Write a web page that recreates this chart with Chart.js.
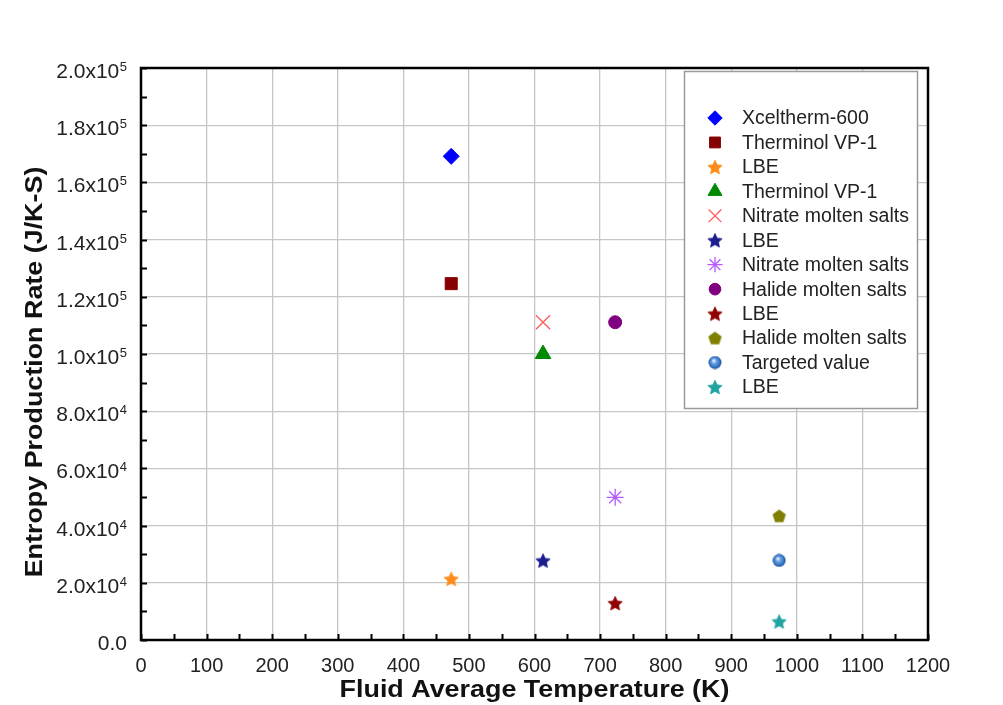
<!DOCTYPE html>
<html><head><meta charset="utf-8">
<script src="https://cdn.jsdelivr.net/npm/chart.js@4/dist/chart.umd.min.js"></script>
<style>html,body{margin:0;padding:0;background:#fff;}canvas{display:block}</style>
</head><body>
<canvas id="c" width="1003" height="705"></canvas>
<script>
// ---- data ----
const seriesNames = ['Xceltherm-600','Therminol VP-1','LBE','Therminol VP-1','Nitrate molten salts','LBE','Nitrate molten salts','Halide molten salts','LBE','Halide molten salts','Targeted value','LBE'];
const temperatureK = [473, 473, 473, 613, 613, 613, 723, 723, 723, 973, 973, 973];
const entropyRate = [169100, 124600, 21400, 100000, 111100, 27800, 49900, 111100, 12900, 43400, 27800, 6500];
const seriesColors = ['#0000ff','#850000','#ff8c1a','#008a00','#ff5a5a','#1c1c8e','#b45aff','#800080','#900000','#7f7f00','#2f6fc4','#22a3a3'];
const seriesShapes = ['rectRot','rect','star5','triangle','crossRot','star5','star','circle','star5','pentagon','ball','star5'];
const xTickValues = [0,100,200,300,400,500,600,700,800,900,1000,1100,1200];
const xTickLabels = ['0','100','200','300','400','500','600','700','800','900','1000','1100','1200'];
const yTickValues = [0,20000,40000,60000,80000,100000,120000,140000,160000,180000,200000];
const yTickLabels = ['0.0','2.0x10^4','4.0x10^4','6.0x10^4','8.0x10^4','1.0x10^5','1.2x10^5','1.4x10^5','1.6x10^5','1.8x10^5','2.0x10^5'];
const xAxisTitle = 'Fluid Average Temperature (K)';
const yAxisTitle = 'Entropy Production Rate (J/K-S)';

// ---- marker images ----
function mk(d){const c=document.createElement('canvas');c.width=c.height=d;return c;}
function starImg(color,d){
  const c=mk(d),g=c.getContext('2d');const R=d/2-0.5,r=R*0.48,cx=d/2,cy=d/2+0.8;
  g.beginPath();
  for(let i=0;i<10;i++){const a=-Math.PI/2+i*Math.PI/5;const rr=i%2?r:R;g.lineTo(cx+rr*Math.cos(a),cy+rr*Math.sin(a));}
  g.closePath();g.fillStyle=color;g.fill();g.lineWidth=0.8;g.strokeStyle=color;g.stroke();return c;
}
function pentImg(color,d){
  const c=mk(d),g=c.getContext('2d');const R=d/2-0.5,cx=d/2,cy=d/2+0.6;
  g.beginPath();
  for(let i=0;i<5;i++){const a=-Math.PI/2+i*2*Math.PI/5;g.lineTo(cx+R*Math.cos(a),cy+R*Math.sin(a));}
  g.closePath();g.fillStyle=color;g.fill();return c;
}
function ballImg(color,d){
  const c=mk(d),g=c.getContext('2d');const R=d/2-0.5;
  const gr=g.createRadialGradient(d*0.4,d*0.36,0.5,d/2,d/2,R);
  gr.addColorStop(0,'#e6f0ff');gr.addColorStop(0.35,'#6a9ee0');gr.addColorStop(0.8,color);gr.addColorStop(1,'#1d4a8f');
  g.beginPath();g.arc(d/2,d/2,R,0,Math.PI*2);g.fillStyle=gr;g.fill();return c;
}
const radiusFor={rectRot:8,rect:8.5,triangle:9,crossRot:10,star:8.5,circle:6.5};
function styleFor(i){
  const s=seriesShapes[i],col=seriesColors[i];
  if(s==='star5')return starImg(col,16);
  if(s==='pentagon')return pentImg(col,15);
  if(s==='ball')return ballImg(col,14);
  return s;
}
const styles=seriesShapes.map((s,i)=>styleFor(i));

const datasets=seriesNames.map((name,i)=>({
  label:name,
  data:[{x:temperatureK[i],y:entropyRate[i]}],
  pointStyle:styles[i],
  pointRadius:radiusFor[seriesShapes[i]]||8,
  backgroundColor:seriesColors[i],
  borderColor:seriesColors[i],
  borderWidth:(seriesShapes[i]==='crossRot'||seriesShapes[i]==='star')?1.3:1,
  showLine:false
}));

const FONT='"Liberation Sans", Arial, sans-serif';
const decor={
  id:'decor',
  afterDraw(chart){
    const ctx=chart.ctx,a=chart.chartArea,xs=chart.scales.x,ys=chart.scales.y;
    ctx.save();
    // frame
    ctx.strokeStyle='#000';ctx.lineWidth=2.5;
    ctx.strokeRect(a.left,a.top,a.right-a.left,a.bottom-a.top);
    // inner ticks
    ctx.lineWidth=2;ctx.beginPath();
    for(let v=0;v<=1200;v+=50){const px=Math.round(xs.getPixelForValue(v))+0.5;ctx.moveTo(px,a.bottom);ctx.lineTo(px,a.bottom-6);}
    for(let v=0;v<=200000;v+=10000){const py=Math.round(ys.getPixelForValue(v))+0.5;ctx.moveTo(a.left,py);ctx.lineTo(a.left+6,py);}
    ctx.stroke();
    // x tick labels
    ctx.fillStyle='#222';ctx.font='20px '+FONT;ctx.textAlign='center';ctx.textBaseline='alphabetic';
    xTickValues.forEach((v,i)=>ctx.fillText(xTickLabels[i],xs.getPixelForValue(v),a.bottom+32));
    // y tick labels
    const rightX=127;
    yTickValues.forEach((v,i)=>{
      const py=ys.getPixelForValue(v);
      const parts=yTickLabels[i].split('^');
      let supW=0;
      if(parts[1]){ctx.font='13px '+FONT;supW=ctx.measureText(parts[1]).width;}
      ctx.font='21px '+FONT;ctx.textAlign='right';
      ctx.fillText(parts[0],rightX-supW-(parts[1]?0.5:0),py+10);
      if(parts[1]){ctx.font='13px '+FONT;ctx.textAlign='left';ctx.fillText(parts[1],rightX-supW,py+3);}
    });
    // axis titles
    ctx.fillStyle='#111';ctx.font='bold 24px '+FONT;ctx.textAlign='center';
    ctx.save();ctx.translate((a.left+a.right)/2,697);ctx.scale(1.12,1);ctx.fillText(xAxisTitle,0,0);ctx.restore();
    ctx.save();ctx.translate(42,372);ctx.rotate(-Math.PI/2);ctx.scale(1.12,1);ctx.fillText(yAxisTitle,0,0);ctx.restore();
    // legend
    const lx=684.5,ly=71.5,lw=233,lh=337;
    ctx.fillStyle='#fff';ctx.fillRect(lx,ly,lw,lh);
    ctx.strokeStyle='#9a9a9a';ctx.lineWidth=1.5;ctx.strokeRect(lx,ly,lw,lh);
    seriesNames.forEach((name,i)=>{
      const y=118+i*24.45;
      const ds=datasets[i];
      ctx.fillStyle=ds.backgroundColor;ctx.strokeStyle=ds.borderColor;ctx.lineWidth=ds.borderWidth;
      Chart.helpers.drawPoint(ctx,{pointStyle:ds.pointStyle,radius:ds.pointRadius*0.9,rotation:0,borderWidth:ds.borderWidth},715,y);
      ctx.fillStyle='#222';ctx.font='19.5px '+FONT;ctx.textAlign='left';ctx.textBaseline='middle';
      ctx.fillText(name,742,y+1);
      ctx.textBaseline='alphabetic';
    });
    ctx.restore();
  }
};

new Chart(document.getElementById('c'),{
  type:'scatter',
  data:{datasets},
  options:{
    responsive:false,animation:false,events:[],
    layout:{padding:{left:141,right:75,top:68,bottom:65}},
    plugins:{legend:{display:false},tooltip:{enabled:false}},
    scales:{
      x:{type:'linear',min:0,max:1200,ticks:{display:false,stepSize:100},grid:{color:'#c6c6c6',lineWidth:1.3,drawTicks:false},border:{display:false}},
      y:{type:'linear',min:0,max:200000,ticks:{display:false,stepSize:20000},grid:{color:'#c6c6c6',lineWidth:1.3,drawTicks:false},border:{display:false}}
    }
  },
  plugins:[decor]
});
</script>
</body></html>
